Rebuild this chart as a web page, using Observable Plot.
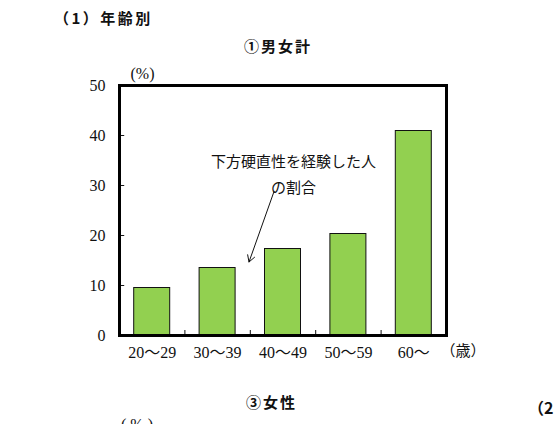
<!DOCTYPE html>
<html><head><meta charset="utf-8">
<script src="https://cdn.jsdelivr.net/npm/d3@7"></script>
<script src="https://cdn.jsdelivr.net/npm/@observablehq/plot@0.6"></script>
<style>
body{margin:0;background:#fff;width:557px;height:424px;overflow:hidden;position:relative;font-family:"Noto Sans CJK JP",sans-serif;}
.t{position:absolute;white-space:nowrap;color:#111;}
#chart{position:absolute;left:0;top:60px;}
</style></head>
<body>
<div class="t" style="left:54px;top:9px;font-size:15px;font-weight:bold;letter-spacing:2.5px;line-height:18px;">（1）年齢別</div>
<div class="t" style="left:244px;top:37px;font-size:15px;font-weight:bold;letter-spacing:2px;line-height:18px;">①男女計</div>
<div id="chart"></div>
<div class="t" style="left:246px;top:393px;font-size:15px;font-weight:bold;letter-spacing:2px;line-height:18px;">③女性</div>
<div class="t" style="left:528px;top:397px;font-size:16px;font-weight:bold;line-height:20px;">（2</div>
<div class="t" style="left:121px;top:416px;font-size:16px;line-height:18px;letter-spacing:4px;font-family:'Liberation Serif',serif;">(%)</div>
<script>
const categories = ["20〜29", "30〜39", "40〜49", "50〜59", "60〜"];
const values = [9.5, 13.5, 17.3, 20.3, 40.9];
const yTicks = [0, 10, 20, 30, 40, 50];
const yUnit = ["(%)"];
const xUnit = ["（歳）"];
const annotationText = ["下方硬直性を経験した人\nの割合"];
const annotationPos = [2.66, 32.8];
const arrowFrom = [2.36, 28.7];
const arrowTo = [1.98, 14.7];

const data = categories.map((c, i) => ({c, i, v: values[i]}));
const boundaries = categories.slice(1).map((c, i) => i + 1);

const serif = "'Liberation Serif','DejaVu Serif','Noto Sans CJK JP',serif";
const chart = Plot.plot({
  width: 557,
  height: 320,
  marginTop: 25,
  marginBottom: 45,
  marginLeft: 119,
  marginRight: 111,
  style: {fontFamily: serif, fontSize: "16px", color: "#111", background: "white"},
  x: {domain: [0, categories.length], axis: null},
  y: {domain: [0, 50], axis: null},
  marks: [
    Plot.rectY(data, {x1: "i", x2: d => d.i + 1, y: "v", insetLeft: 14.7, insetRight: 14.7, fill: "#92D050", stroke: "#111", strokeWidth: 1}),
    Plot.ruleX(boundaries, {x: d => d, y1: 0, y2: 1, stroke: "#111", strokeWidth: 1}),
    Plot.ruleY(yTicks.slice(1, -1), {y: d => d, x1: 0, x2: 0.08, stroke: "#111", strokeWidth: 1}),
    Plot.axisY({ticks: yTicks, tickSize: 0, tickPadding: 14, label: null, fontFamily: serif, fontSize: 16}),
    Plot.axisX({ticks: categories.map((c, i) => i + 0.5), tickFormat: d => categories[Math.floor(d)], tickSize: 0, tickPadding: 11, fontSize: 16, fontFamily: serif, label: null}),
    Plot.text(yUnit, {frameAnchor: "top-left", dx: 11, dy: -18, text: d => d, textAnchor: "start", fontSize: 16, fontFamily: serif, letterSpacing: "4px"}),
    Plot.text(xUnit, {frameAnchor: "bottom-right", dx: -6, dy: 20, text: d => d, textAnchor: "start", fontSize: 15, fontFamily: serif}),
    Plot.text(annotationText, {x: annotationPos[0], y: annotationPos[1], text: d => d, lineHeight: 1.73, fontSize: 15, fontFamily: "'Noto Sans CJK JP'", letterSpacing: "3px"}),
    Plot.arrow([0], {x1: arrowFrom[0], y1: arrowFrom[1], x2: arrowTo[0], y2: arrowTo[1], stroke: "#111", strokeWidth: 1, headLength: 11, bend: 0}),
    Plot.frame({stroke: "#000", strokeWidth: 3})
  ]
});
document.getElementById("chart").appendChild(chart);
</script>
</body></html>
